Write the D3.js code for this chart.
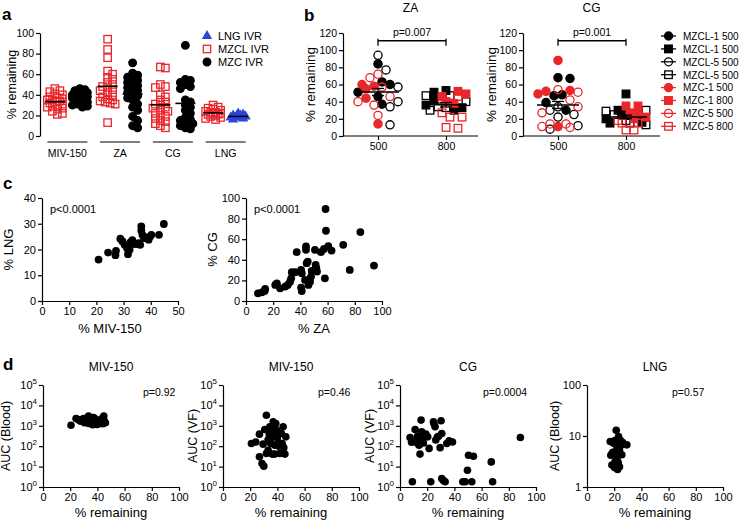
<!DOCTYPE html>
<html><head><meta charset="utf-8">
<script src="https://cdn.jsdelivr.net/npm/d3@7"></script>
<style>body{margin:0;background:#fff} svg{display:block}</style>
</head><body><script>
// ================= DATA =================
// Panel a
const panelAGroups = ["MIV-150","ZA","CG","LNG"];
const mzclMIV = [46,44,43,41,40,38,37,36,35,35,34,33,32,31,30,29,28,27,26,24,22,21];
const mzcMIV  = [46,45,44,43,42,41,40,39,38,37,37,36,35,34,33,32,31,30,29,28];
const mzclZA  = [94,84,76,63,60,57,55,52,50,48,47,45,44,42,40,38,36,35,34,33,32,31,13];
const mzcZA   = [71,61,59,57,56,54,52,51,49,47,45,44,42,41,39,37,35,31,28,25,19,15,10,8];
const mzclCG  = [67,66,50,48,47,40,38,35,33,31,30,28,27,25,24,22,20,19,17,15,14,12,10,8];
const mzcCG   = [88,55,54,52,50,48,46,35,33,30,28,25,22,18,16,15,13,12,10,8,7];
const mzclLNG = [30,28,27,26,25,24,23,23,22,22,21,21,20,19,18,17,16];
const lngIVR  = [22,21,20,20,19,19,18,18,17,16];
const aYTicks = [0,20,40,60,80,100];
const aLegend = ["LNG IVR","MZCL IVR","MZC IVR"];

// Panel b
const bDoses = ["500","800"];
const bYTicks = [0,20,40,60,80,100,120];
const bLegend = ["MZCL-1 500","MZCL-1 500","MZCL-5 500","MZCL-5 500","MZC-1 500","MZC-1 800","MZC-5 500","MZC-5 800"];
const zaMZCL1_500 = [84,63,60,51,46,37];
const zaMZCL1_800 = [53,51,42,36,33,30];
const zaMZCL5_500 = [94,77,57,40,34,13];
const zaMZCL5_800 = [47,47,40,34,33,30];
const zaMZC1_500  = [60,58,55,44,14];
const zaMZC1_800  = [52,49,46,40,38];
const zaMZC5_500  = [72,68,57,46,40,36,24];
const zaMZC5_800  = [46,27,22,22,10,9];
const cgMZCL1_500 = [68,67,48,47,39,30];
const cgMZCL1_800 = [49,30,25,20,16,15];
const cgMZCL5_500 = [34,30,25,22,12,8];
const cgMZCL5_800 = [30,29,25,18,15,13];
const cgMZC1_500  = [88,53,52,49,11];
const cgMZC1_800  = [35,35,27,26,22,20];
const cgMZC5_500  = [54,51,42,34,27,14,14,11,10];
const cgMZC5_800  = [18,15,15,7,7];
const bPvalues = ["p=0.007","p=0.001"];

// Panel c
const cMIV = [20.8,24.3,27.0,27.2,28.8,29.6,30.4,31.3,31.6,32.2,33.2,33.7,34.9,36.1,36.5,36.5,36.9,37.5,38.4,39.2,39.8,40.2,43.0,44.8,32.5,35.5];
const cLNG = [16.1,18.8,17.8,19.5,24.2,23.1,21.8,20.5,18.2,19.9,23.6,22.1,22.1,21.8,29.0,27.4,25.7,24.4,24.7,23.8,25.1,25.7,25.7,29.9,22.8,22.5];
const cZA = [8.8,11.7,13.7,14.1,21.5,22.7,25.1,28.8,30.7,32.4,33.7,36.1,37.3,33.2,40.5,41.0,40.5,41.0,43.4,44.6,45.4,44.1,44.1,45.9,47.1,47.8,48.3,51.2,51.7,52.2,50.7,55.1,57.3,58.0,58.5,58.8,60.5,62.9,71.5,76.3,84.1,94.1];
const cCG = [7.5,8.4,9.7,11.7,15.6,17.2,12.3,14.0,15.6,18.8,27.9,27.9,47.4,22.0,30.2,27.0,13.0,9.7,20.5,36.7,38.3,52.9,49.7,15.6,18.8,23.7,29.2,35.0,31.8,28.6,49.7,47.4,50.6,22.0,89.3,68.2,53.2,49.0,54.5,30.2,66.9,34.4];
const cTicksMIV = [0,10,20,30,40,50];
const cTicksLNG = [0,10,20,30,40];
const cTicks100 = [0,20,40,60,80,100];

// Panel d
const d1Pct = [20.6,24.3,27.3,29.8,31.8,33.5,33.5,35.2,37.2,38.5,39.7,41.7,43.4,44.7,45.9,26,30.5,32.5,34.5,36,36.5,38,40.5,42.5,45,29,35.5,41,44];
const d1AUC = [1070,2290,1700,2290,1580,3020,1290,2040,2570,1580,1170,1900,2290,3020,1410,2000,1410,2000,1580,1780,1120,2240,1580,1780,1780,1780,2400,1260,1260];
const d2Pct = [20.9,24.1,26.8,26.8,28.7,30.0,31.9,30.7,33.2,34.4,35.1,36.1,36.9,37.6,38.1,38.8,39.3,40.0,40.5,41.8,43.0,43.5,44.2,44.7,45.5,46.2,33.2,31.9,36.1,38.1,34,37,41,29.5,35.5];
const d2AUC = [135,162,389,30,14,10.5,3310,660,214,891,135,41,1580,309,112,1290,617,288,162,44,417,135,891,85,41,288,63,44,617,41,398,562,100,126,251];
const d3Pct = [7.4,9.1,11.1,11.5,12.8,14.0,14.7,15.5,16.0,17.2,18.4,20.4,21.4,22.6,24.6,25.8,26.3,28.3,29.5,30.2,30.7,31.9,33.2,34.4,36.1,38.6,30.7,8.5,13.5,46.2,47.9,49.6,50.4,52.8,54.0,67.1,68.1,88.5,13,16.5,19,25,27.5];
const d3AUC = [269,1.8,660,162,309,112,41,1900,501,145,309,288,78,1.8,1580,891,200,309,85,1780,2.6,2.1,1.8,135,182,162,417,158,200,1.8,1.8,6.6,36,1.8,32,17,1.8,269,141,224,398,1260,282];
const d4Pct = [17.1,18.3,18.3,19.5,20.2,21.5,22.0,22.0,22.7,23.2,23.9,23.9,24.9,25.6,26.3,29.3,20.7,21.5,19,22.5,24.5,17.5,27,20.5,23];
const d4AUC = [7.8,4.5,2.7,7.2,2.4,13,5.8,3.7,7.2,9.7,5.3,2.5,6.7,4.3,7.4,6.7,3.2,5.0,4.8,2.2,8.2,4.2,6.8,8.1,3.0];
const dTitles = ["MIV-150","MIV-150","CG","LNG"];
const dYLabels = ["AUC (Blood)","AUC (VF)","AUC (VF)","AUC (Blood)"];
const dPvalues = ["p=0.92","p=0.46","p=0.0004","p=0.57"];
const dXTicks = [0,20,40,60,80,100];

// ================= DRAWING =================
const FONT = "'Liberation Sans', Arial, Helvetica, sans-serif";
const RED = "#e8262b", BLUE = "#2a45d8", BLK = "#000";
const svg = d3.select("body").append("svg").attr("width",739).attr("height",523)
  .attr("font-family",FONT);

function styleAxis(g, fs){
  g.selectAll("path.domain").attr("stroke",BLK).attr("stroke-width",1.2);
  g.selectAll(".tick line").attr("stroke",BLK).attr("stroke-width",1.2);
  g.selectAll("text").attr("font-size",fs||10.5).attr("fill",BLK).attr("font-family",FONT);
}
function txt(x,y,s,opt){
  opt = opt||{};
  const t = svg.append("text").attr("x",x).attr("y",y).text(s)
    .attr("font-size",opt.fs||11).attr("fill",opt.fill||BLK)
    .attr("text-anchor",opt.anchor||"start");
  if(opt.bold) t.attr("font-weight","bold");
  if(opt.rot) t.attr("transform",`rotate(-90,${x},${y})`);
  return t;
}
// simple swarm: returns x offsets for pixel y positions
function swarm(ys, d, step, maxOff){
  const idx = ys.map((_,i)=>i).sort((a,b)=>ys[a]-ys[b]);
  const placed = []; const off = new Array(ys.length).fill(0);
  for(const i of idx){
    let best=0, bestScore=-1;
    for(let k=0;k<60;k++){
      const c = k===0?0:((k%2)?1:-1)*Math.ceil(k/2)*step;
      if(Math.abs(c)>maxOff) break;
      let minD = Infinity;
      for(const p of placed){ const dd=Math.hypot(p.x-c,p.y-ys[i]); if(dd<minD) minD=dd; }
      if(minD>=d){ best=c; bestScore=Infinity; break; }
      if(minD>bestScore){ bestScore=minD; best=c; }
    }
    off[i]=best; placed.push({x:best,y:ys[i]});
  }
  return off;
}
function marker(g, shape, x, y, color, filled, size){
  if(shape==="circle"){
    g.append("circle").attr("cx",x).attr("cy",y).attr("r",size)
      .attr("fill",filled?color:"#fff").attr("fill-opacity",filled?1:0)
      .attr("stroke",color).attr("stroke-width",1.3);
  } else if(shape==="square"){
    g.append("rect").attr("x",x-size).attr("y",y-size).attr("width",2*size).attr("height",2*size)
      .attr("fill",filled?color:"none").attr("stroke",color).attr("stroke-width",1.3);
  } else {
    g.append("path").attr("d",d3.symbol(d3.symbolTriangle, size*size*3.2)())
      .attr("transform",`translate(${x},${y})`).attr("fill",color);
  }
}

// ---------- Panel a ----------
txt(2,20,"a",{fs:17,bold:true});
const yA = d3.scaleLinear().domain([0,100]).range([136,33]);
const xA = d3.scaleBand().domain(panelAGroups).range([41,252]);
const gA = svg.append("g");
gA.append("g").attr("transform","translate(40,0)")
  .call(d3.axisLeft(yA).tickValues(aYTicks).tickSize(4).tickPadding(2).tickSizeOuter(0))
  .call(g=>styleAxis(g,10.5));
txt(15.5,(yA(0)+yA(100))/2,"% remaining",{fs:12.5,anchor:"middle",rot:true});
panelAGroups.forEach(gname=>{
  const c = xA(gname)+xA.bandwidth()/2;
  gA.append("line").attr("x1",c-20).attr("x2",c+20).attr("y1",142).attr("y2",142)
    .attr("stroke",BLK).attr("stroke-width",1.2);
  txt(c,157,gname,{fs:10.5,anchor:"middle"});
});
const aCols = [
  {g:"MIV-150",side:-1,vals:mzclMIV,shape:"square",color:RED,filled:false},
  {g:"MIV-150",side:1,vals:mzcMIV,shape:"circle",color:BLK,filled:true},
  {g:"ZA",side:-1,vals:mzclZA,shape:"square",color:RED,filled:false},
  {g:"ZA",side:1,vals:mzcZA,shape:"circle",color:BLK,filled:true},
  {g:"CG",side:-1,vals:mzclCG,shape:"square",color:RED,filled:false},
  {g:"CG",side:1,vals:mzcCG,shape:"circle",color:BLK,filled:true},
  {g:"LNG",side:-1,vals:mzclLNG,shape:"square",color:RED,filled:false},
  {g:"LNG",side:1,vals:lngIVR,shape:"triangle",color:BLUE,filled:true}
];
aCols.forEach(col=>{
  const cx = xA(col.g)+xA.bandwidth()/2 + col.side*12.5;
  const ys = col.vals.map(v=>yA(v));
  const off = swarm(ys,5,2.5,8);
  ys.forEach((y,i)=>marker(gA,col.shape,cx+off[i],y,col.color,col.filled,col.shape==="square"?3.7:3.8));
  const m = d3.mean(col.vals);
  gA.append("line").attr("x1",cx-10).attr("x2",cx+10).attr("y1",yA(m)).attr("y2",yA(m))
    .attr("stroke",BLK).attr("stroke-width",1.6);
});
// legend a
[["triangle",BLUE,true],["square",RED,false],["circle",BLK,true]].forEach((s,i)=>{
  const y = 36+i*13;
  marker(gA,s[0],207,y,s[1],s[2],s[0]==="square"?3.7:3.8);
  txt(218,y+4,aLegend[i],{fs:11});
});

// ---------- Panel b ----------
txt(304,21,"b",{fs:17,bold:true});
const bStyles = [
  {shape:"circle",color:BLK,filled:true},{shape:"square",color:BLK,filled:true},
  {shape:"circle",color:BLK,filled:false},{shape:"square",color:BLK,filled:false},
  {shape:"circle",color:RED,filled:true},{shape:"square",color:RED,filled:true},
  {shape:"circle",color:RED,filled:false},{shape:"square",color:RED,filled:false}
];
const bZA = [zaMZCL1_500,zaMZCL1_800,zaMZCL5_500,zaMZCL5_800,zaMZC1_500,zaMZC1_800,zaMZC5_500,zaMZC5_800];
const bCG = [cgMZCL1_500,cgMZCL1_800,cgMZCL5_500,cgMZCL5_800,cgMZC1_500,cgMZC1_800,cgMZC5_500,cgMZC5_800];
function drawB(axisX, x500, xEnd, title, series, pText, labelX){
  const y = d3.scaleLinear().domain([0,120]).range([136,33]);
  const x = d3.scalePoint().domain(bDoses).range([x500, x500+68]);
  const g = svg.append("g");
  g.append("g").attr("transform",`translate(${axisX},0)`)
    .call(d3.axisLeft(y).tickValues(bYTicks).tickSize(4).tickPadding(2).tickSizeOuter(0))
    .call(a=>styleAxis(a,10.5));
  g.append("line").attr("x1",axisX).attr("x2",xEnd).attr("y1",y(0)).attr("y2",y(0))
    .attr("stroke",BLK).attr("stroke-width",1.2);
  g.append("g").attr("transform",`translate(0,${y(0)})`)
    .call(d3.axisBottom(x).tickSize(4).tickPadding(3).tickSizeOuter(0))
    .call(a=>{a.select("path.domain").remove(); styleAxis(a,10.5);});
  txt(labelX,(y(0)+y(120))/2,"% remaining",{fs:13.5,anchor:"middle",rot:true});
  txt((axisX+xEnd)/2,12,title,{fs:12,anchor:"middle"});
  bDoses.forEach((dose,di)=>{
    const pts = [];
    series.forEach((vals,si)=>{
      if((si%2)!==di) return;
      vals.forEach(v=>pts.push({v,s:bStyles[si]}));
    });
    const ys = pts.map(p=>y(p.v));
    const off = swarm(ys,8.2,4,20);
    const cx = x(dose);
    pts.forEach((p,i)=>marker(g,p.s.shape,cx+off[i],ys[i],p.s.color,p.s.filled,p.s.shape==="square"?3.8:4.1));
    const vals = pts.map(p=>p.v);
    const m = d3.mean(vals), se = d3.deviation(vals)/Math.sqrt(vals.length);
    g.append("line").attr("x1",cx-21).attr("x2",cx+21).attr("y1",y(m)).attr("y2",y(m))
      .attr("stroke",BLK).attr("stroke-width",1.5);
    g.append("line").attr("x1",cx).attr("x2",cx).attr("y1",y(m-se)).attr("y2",y(m+se))
      .attr("stroke",BLK).attr("stroke-width",1.3);
    [m-se,m+se].forEach(v=>g.append("line").attr("x1",cx-6).attr("x2",cx+6).attr("y1",y(v)).attr("y2",y(v))
      .attr("stroke",BLK).attr("stroke-width",1.3));
  });
  // bracket
  const by = y(111);
  g.append("path").attr("d",`M${x("500")},${by+5}V${by-2}M${x("500")},${by}H${x("800")}M${x("800")},${by+5}V${by-2}`)
    .attr("stroke",BLK).attr("stroke-width",1.3).attr("fill","none");
  txt((x("500")+x("800"))/2,by-5,pText,{fs:10.5,anchor:"middle"});
}
drawB(343,378,478,"ZA",bZA,bPvalues[0],315);
drawB(523,558,660,"CG",bCG,bPvalues[1],496);
// legend b
const gLB = svg.append("g");
bLegend.forEach((lab,i)=>{
  const y = 36+i*12.9, s=bStyles[i];
  gLB.append("line").attr("x1",661).attr("x2",676).attr("y1",y).attr("y2",y).attr("stroke",s.color).attr("stroke-width",1.3);
  marker(gLB,s.shape,668.5,y,s.color,s.filled,s.shape==="square"?3.8:4);
  txt(683,y+3.8,lab,{fs:10});
});

// ---------- Panel c ----------
txt(3,189,"c",{fs:17,bold:true});
function scatter(x0,x1,xDom,xTicks,yDom,yTicks,xs,ys,xLab,yLab,yLabX,pText){
  const x = d3.scaleLinear().domain(xDom).range([x0,x1]);
  const y = d3.scaleLinear().domain(yDom).range([301,198]);
  const g = svg.append("g");
  g.append("g").attr("transform",`translate(0,301)`)
    .call(d3.axisBottom(x).tickValues(xTicks).tickSize(4).tickPadding(2).tickSizeOuter(0))
    .call(a=>styleAxis(a,11));
  g.append("g").attr("transform",`translate(${x0},0)`)
    .call(d3.axisLeft(y).tickValues(yTicks).tickSize(4).tickPadding(2).tickSizeOuter(0))
    .call(a=>styleAxis(a,11));
  xs.forEach((v,i)=>g.append("circle").attr("cx",x(v)).attr("cy",y(ys[i])).attr("r",3.9).attr("fill",BLK));
  txt((x0+x1)/2,333,xLab,{fs:13,anchor:"middle"});
  txt(yLabX,(198+301)/2,yLab,{fs:13,anchor:"middle",rot:true});
  txt(x0+8,213,pText,{fs:11});
}
scatter(42,178,[0,50],cTicksMIV,[0,40],cTicksLNG,cMIV,cLNG,"% MIV-150","% LNG",13,"p<0.0001");
scatter(246,382,[0,100],cTicks100,[0,100],cTicks100,cZA,cCG,"% ZA","% CG",217,"p<0.0001");

// ---------- Panel d ----------
txt(3,370,"d",{fs:17,bold:true});
const dPanels = [
  {x0:43,xs:d1Pct,ys:d1AUC,yMax:1e5,labX:10,pX:143},
  {x0:223,xs:d2Pct,ys:d2AUC,yMax:1e5,labX:197,pX:318},
  {x0:400,xs:d3Pct,ys:d3AUC,yMax:1e5,labX:374,pX:483},
  {x0:587,xs:d4Pct,ys:d4AUC,yMax:100,labX:559,pX:672}
];
dPanels.forEach((p,k)=>{
  const x = d3.scaleLinear().domain([0,100]).range([p.x0,p.x0+136]);
  const y = d3.scaleLog().domain([1,p.yMax]).range([487,385]);
  const g = svg.append("g");
  const decades = d3.range(0,Math.round(Math.log10(p.yMax))+1).map(e=>Math.pow(10,e));
  g.append("g").attr("transform",`translate(0,487)`)
    .call(d3.axisBottom(x).tickValues(dXTicks).tickSize(4).tickPadding(2).tickSizeOuter(0))
    .call(a=>styleAxis(a,11));
  const ya = g.append("g").attr("transform",`translate(${p.x0},0)`)
    .call(d3.axisLeft(y).tickValues(decades).tickSize(4).tickPadding(2).tickSizeOuter(0).tickFormat(v=>String(v)))
    .call(a=>styleAxis(a,11));
  if(p.yMax>100){
    ya.selectAll(".tick text").each(function(v){
      const t = d3.select(this); t.text(null);
      t.append("tspan").text("10");
      t.append("tspan").attr("dy",-5).attr("font-size",8).text(String(Math.round(Math.log10(v))));
    });
  }
  p.xs.forEach((v,i)=>g.append("circle").attr("cx",x(v)).attr("cy",y(p.ys[i])).attr("r",3.8).attr("fill",BLK));
  txt(p.x0+68,371,dTitles[k],{fs:12,anchor:"middle"});
  txt(p.pX,396,dPvalues[k],{fs:10.5});
  txt(p.x0+68,517,"% remaining",{fs:13,anchor:"middle"});
  txt(p.labX,436,dYLabels[k],{fs:12.5,anchor:"middle",rot:true});
});
</script></body></html>
